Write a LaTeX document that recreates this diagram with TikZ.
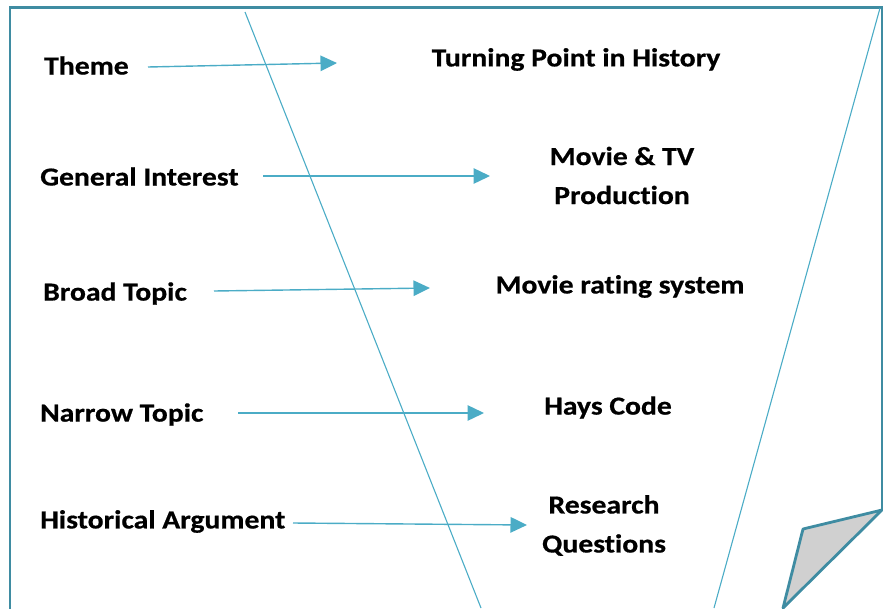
\documentclass[tikz,border=0pt]{standalone}
\usepackage{fontspec}
\setmainfont{Carlito}[Ligatures=NoCommon]
\newfontfamily\stagefont{Carlito}[Ligatures=NoCommon, FakeStretch=1.14, FakeBold=0.6]
\usetikzlibrary{arrows.meta}
\definecolor{framecol}{HTML}{3F8CA2}
\definecolor{linecol}{HTML}{4BACC6}
\definecolor{foldgrey}{HTML}{D0D0D0}
\tikzset{
  lbl/.style={inner sep=0pt, font=\stagefont\fontsize{26}{39}\selectfont\bfseries},
  leftlbl/.style={lbl, anchor=west},
  rightlbl/.style={lbl, align=center},
  pointer/.style={draw=linecol, line width=1.4pt, -{Triangle[length=16.5pt,width=15.5pt]}},
  funnel/.style={draw=linecol, line width=1.1pt},
  frameline/.style={draw=framecol, line width=2.8pt}
}
\begin{document}
\begin{tikzpicture}[x=1pt,y=-1pt]
\useasboundingbox (0,0) rectangle (883,608);
\begin{scope}
\clip (0,0) rectangle (883,608);
% page frame with the folded corner
\draw[frameline, line join=miter] (10,640) -- (10,7.5) -- (882,7.5) -- (882,510);
\draw[frameline, fill=foldgrey, line join=round] (882,510) -- (803,529) -- (783,608) -- cycle;
% funnel sides
\coordinate (fl1) at (245,12);
\coordinate (fl2) at (481,608);
\coordinate (fr1) at (880,8);
\coordinate (fr2) at (714,608);
\draw[funnel] (fl1) -- (fl2);
\draw[funnel] (fr1) -- (fr2);
\end{scope}
% left-hand stages
\node[leftlbl] (theme) at (44,65.5) {Theme};
\node[leftlbl] (general) at (40,176.5) {General Interest};
\node[leftlbl] (broad) at (43,293.5) {Broad Topic};
\node[leftlbl] (narrow) at (40,414.5) {Narrow Topic};
\node[leftlbl] (argument) at (40,521.5) {Historical Argument};
% right-hand examples
\node[rightlbl] (turning) at (576,59.5) {Turning Point in History};
\node[rightlbl] (movie) at (622,175.5) {Movie \& TV\\Production};
\node[rightlbl] (rating) at (620,286.5) {Movie rating system};
\node[rightlbl] (hays) at (608,407.5) {Hays Code};
\node[rightlbl] (research) at (604,525.5) {Research\\Questions};
% arrow ends
\coordinate (a1s) at (148,67);  \coordinate (a1e) at (337,63);
\coordinate (a2s) at (263,176); \coordinate (a2e) at (490,176);
\coordinate (a3s) at (214,291); \coordinate (a3e) at (430,288);
\coordinate (a4s) at (238,413); \coordinate (a4e) at (484,413);
\coordinate (a5s) at (293,523); \coordinate (a5e) at (527,525);
\draw[pointer] (a1s) -- (a1e);
\draw[pointer] (a2s) -- (a2e);
\draw[pointer] (a3s) -- (a3e);
\draw[pointer] (a4s) -- (a4e);
\draw[pointer] (a5s) -- (a5e);
\end{tikzpicture}
\end{document}
